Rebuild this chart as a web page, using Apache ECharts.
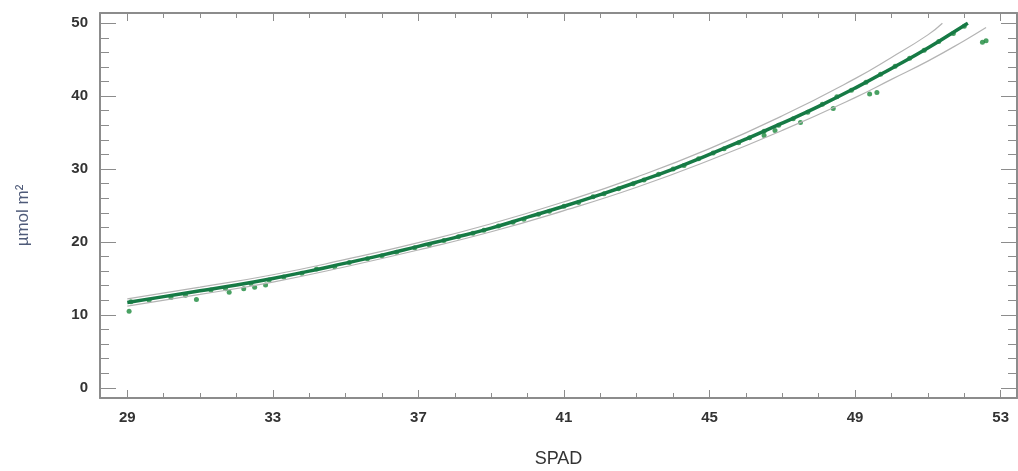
<!DOCTYPE html>
<html>
<head>
<meta charset="utf-8">
<script src="https://cdn.jsdelivr.net/npm/echarts@6/dist/echarts.min.js"></script>
<style>
	html, body { margin: 0; padding: 0; background: #fff; }
	#chart { width: 1018px; height: 471px; }
</style>
</head>
<body>
<div id="chart"></div>
<script>
	// axis ranges and ticks
	var xMin = 28.25, xMax = 53.45;
	var yMin = -1.4, yMax = 51.4;
	var xMajor = [29, 33, 37, 41, 45, 49, 53];
	var xMinor = [29, 30, 31, 32, 33, 34, 35, 36, 37, 38, 39, 40, 41, 42, 43, 44, 45, 46, 47, 48, 49, 50, 51, 52, 53];
	var yMajor = [0, 10, 20, 30, 40, 50];
	var yMinor = [0, 2, 4, 6, 8, 10, 12, 14, 16, 18, 20, 22, 24, 26, 28, 30, 32, 34, 36, 38, 40, 42, 44, 46, 48, 50];

	// fitted curve
	var fitX = [29, 30, 31, 32, 33, 34, 35, 36, 37, 38, 39, 40, 41, 42, 43, 44, 45, 46, 47, 48, 49, 50, 51, 52, 52.1];
	var fitY = [11.7, 12.5, 13.3, 14.1, 15.0, 16.0, 17.1, 18.2, 19.4, 20.6, 21.9, 23.4, 24.9, 26.5, 28.2, 30.0, 32.0, 34.1, 36.3, 38.6, 41.1, 43.8, 46.6, 49.7, 50.0];

	// grey band lines
	var upperX = [29, 31, 33, 35, 37, 39, 41, 43, 45, 47, 49, 50, 51, 51.4];
	var upperY = [12.2, 13.8, 15.5, 17.6, 19.9, 22.5, 25.5, 28.9, 32.8, 37.3, 42.4, 45.3, 48.4, 50.0];
	var lowerX = [29, 31, 33, 35, 37, 39, 41, 43, 45, 47, 49, 50, 51, 52, 52.6];
	var lowerY = [11.2, 12.8, 14.5, 16.6, 18.9, 21.4, 24.3, 27.5, 31.2, 35.3, 39.8, 42.3, 44.8, 47.6, 49.4];

	// observations
	var obsX = [29.05, 29.1, 29.6, 30.2, 30.6, 30.9, 31.3, 31.7, 31.8, 32.2, 32.4, 32.5, 32.8, 32.9, 33.3, 33.8, 34.2, 34.7, 35.1, 35.6, 36.0, 36.4, 36.9, 37.3, 37.7, 38.1, 38.5, 38.8, 39.2, 39.6, 39.9, 40.3, 40.6, 41.0, 41.4, 41.8, 42.1, 42.5, 42.9, 43.2, 43.6, 44.0, 44.3, 44.7, 45.1, 45.4, 45.8, 46.1, 46.5, 46.5, 46.8, 46.9, 47.3, 47.5, 47.7, 48.1, 48.4, 48.5, 48.9, 49.3, 49.4, 49.6, 49.7, 50.1, 50.5, 50.9, 51.3, 51.7, 52.0, 52.5, 52.6];
	var obsY = [10.5, 11.8, 12.0, 12.4, 12.7, 12.1, 13.4, 13.6, 13.1, 13.6, 14.3, 13.8, 14.1, 14.8, 15.2, 15.7, 16.3, 16.6, 17.2, 17.7, 18.1, 18.6, 19.2, 19.6, 20.2, 20.7, 21.2, 21.6, 22.2, 22.7, 23.1, 23.8, 24.2, 24.9, 25.4, 26.2, 26.6, 27.3, 28.0, 28.5, 29.3, 30.0, 30.5, 31.4, 32.2, 32.8, 33.6, 34.3, 35.2, 34.6, 35.3, 36.0, 36.9, 36.4, 37.8, 38.9, 38.3, 39.9, 40.8, 41.9, 40.3, 40.5, 43.0, 44.1, 45.2, 46.3, 47.5, 48.6, 49.6, 47.4, 47.6];

	function pairs(xs, ys) {
		var out = [];
		for (var i = 0; i < xs.length; i++) out.push([xs[i], ys[i]]);
		return out;
	}

	var axisColor = '#8c8c8c';
	var labelStyle = {
		fontFamily: 'Liberation Sans',
		fontWeight: 'bold',
		fontSize: 15,
		color: '#333'
	};

	function xAxis(pos, ticks, len, main) {
		return {
			type: 'value',
			position: pos,
			min: xMin,
			max: xMax,
			splitLine: { show: false },
			axisLine: { show: main, onZero: false, lineStyle: { color: axisColor, width: 2 } },
			axisTick: { show: true, inside: true, length: len, customValues: ticks, lineStyle: { color: axisColor, width: 1 } },
			axisLabel: main && pos === 'bottom' ? Object.assign({ customValues: xMajor, margin: 12 }, labelStyle) : { show: false }
		};
	}

	function yAxis(pos, ticks, len, main) {
		return {
			type: 'value',
			position: pos,
			min: yMin,
			max: yMax,
			splitLine: { show: false },
			axisLine: { show: main, onZero: false, lineStyle: { color: axisColor, width: 2 } },
			axisTick: { show: true, inside: true, length: len, customValues: ticks, lineStyle: { color: axisColor, width: 1 } },
			axisLabel: main && pos === 'left' ? Object.assign({ customValues: yMajor, margin: 12 }, labelStyle) : { show: false }
		};
	}

	var xs = [
		xAxis('bottom', xMajor, 8, true),
		xAxis('bottom', xMinor, 5, false),
		xAxis('top', xMajor, 8, true),
		xAxis('top', xMinor, 5, false)
	];
	xs[0].name = 'SPAD';
	xs[0].nameLocation = 'middle';
	xs[0].nameGap = 52;
	xs[0].nameTextStyle = { fontFamily: 'Liberation Sans', fontSize: 18, color: '#333' };

	var ys = [
		yAxis('left', yMajor, 16, true),
		yAxis('left', yMinor, 9, false),
		yAxis('right', yMajor, 16, true),
		yAxis('right', yMinor, 9, false)
	];
	ys[0].name = 'µmol m²';
	ys[0].nameLocation = 'middle';
	ys[0].nameGap = 68;
	ys[0].nameTextStyle = { fontFamily: 'Liberation Sans', fontSize: 17, color: '#4f5b79', padding: [0, 20, 0, 0] };

	var chart = echarts.init(document.getElementById('chart'));
	chart.setOption({
		animation: false,
		backgroundColor: '#fff',
		grid: { left: 100, right: 1, top: 13, bottom: 73, outerBoundsMode: 'none' },
		xAxis: xs,
		yAxis: ys,
		series: [{
			type: 'line',
			data: pairs(upperX, upperY),
			smooth: true,
			symbol: 'none',
			lineStyle: { color: '#b4b4b4', width: 1.2 }
		}, {
			type: 'line',
			data: pairs(lowerX, lowerY),
			smooth: true,
			symbol: 'none',
			lineStyle: { color: '#b4b4b4', width: 1.2 }
		}, {
			type: 'line',
			data: pairs(fitX, fitY),
			smooth: true,
			symbol: 'none',
			lineStyle: { color: '#167a45', width: 3.5 }
		}, {
			type: 'scatter',
			data: pairs(obsX, obsY),
			symbolSize: 5,
			itemStyle: { color: '#1b8a3c' }
		}]
	});
</script>
</body>
</html>
